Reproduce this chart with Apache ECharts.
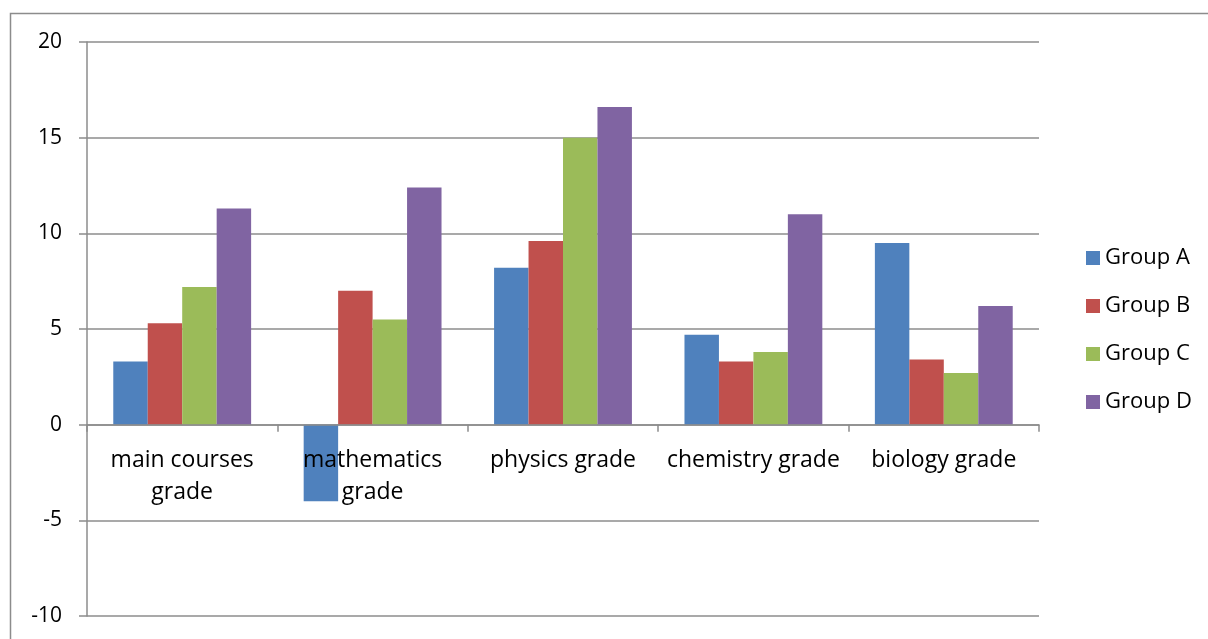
<!DOCTYPE html>
<html>
<head>
<meta charset="utf-8">
<script src="https://cdn.jsdelivr.net/npm/echarts@6/dist/echarts.min.js"></script>
<style>
  html, body { margin: 0; padding: 0; background: #fff; }
  #chart { width: 1208px; height: 639px; }
</style>
</head>
<body>
<div id="chart"></div>
<script>
// Subjects along the category axis
const categories = ['main courses\ngrade', 'mathematics\ngrade', 'physics grade', 'chemistry grade', 'biology grade'];

// Scores per group
const groupA = [3.3, -4.0, 8.2, 4.7, 9.5];
const groupB = [5.3, 7.0, 9.6, 3.3, 3.4];
const groupC = [7.2, 5.5, 15.0, 3.8, 2.7];
const groupD = [11.3, 12.4, 16.6, 11.0, 6.2];

const seriesNames = ['Group A', 'Group B', 'Group C', 'Group D'];
const seriesColors = ['#4F81BD', '#C0504D', '#9BBB59', '#8064A2'];

// Value axis range
const Y_MIN = -10;
const Y_MAX = 20;
const Y_STEP = 5;

const FONT = '"Open Sans", Lato, sans-serif';
const AXIS_GRAY = '#8c8c8c';

const CHART_H = 639;
const GRID = { left: 87, right: 169, top: 42, bottom: 23 };
// The category axis sits on the zero line, with its labels just below it
const plotH = CHART_H - GRID.top - GRID.bottom;
const zeroOffset = -plotH * (0 - Y_MIN) / (Y_MAX - Y_MIN);

const chart = echarts.init(document.getElementById('chart'), null, { renderer: 'canvas' });

const groupData = [groupA, groupB, groupC, groupD];

chart.setOption({
  animation: false,
  backgroundColor: '#fff',
  textStyle: { fontFamily: FONT, color: '#000' },
  graphic: [{
    type: 'rect',
    shape: { x: 10.5, y: 13.5, width: 1400, height: 800 },
    style: { fill: 'none', stroke: AXIS_GRAY, lineWidth: 1.5 },
    z: -10,
    silent: true
  }],
  grid: Object.assign({ containLabel: false, outerBoundsMode: 'none' }, GRID),
  legend: {
    orient: 'vertical',
    left: 1081,
    top: 242,
    itemWidth: 14,
    itemHeight: 14,
    itemGap: 26,
    icon: 'rect',
    textStyle: { fontFamily: FONT, fontSize: 22, color: '#000' },
    data: seriesNames
  },
  xAxis: {
    type: 'category',
    data: categories,
    position: 'bottom',
    offset: zeroOffset,
    z: 3,
    axisLine: { onZero: false, lineStyle: { color: AXIS_GRAY, width: 1.5 } },
    axisTick: { show: true, alignWithLabel: false, length: 7, lineStyle: { color: AXIS_GRAY, width: 1.5 } },
    axisLabel: {
      interval: 0,
      margin: 20,
      fontFamily: FONT,
      fontSize: 23,
      lineHeight: 32,
      color: '#000'
    },
    splitLine: { show: false }
  },
  yAxis: {
    type: 'value',
    min: Y_MIN,
    max: Y_MAX,
    interval: Y_STEP,
    axisLine: { show: true, lineStyle: { color: AXIS_GRAY, width: 1.5 } },
    axisTick: { show: true, inside: false, length: 8, lineStyle: { color: AXIS_GRAY, width: 1.5 } },
    axisLabel: { margin: 25, fontFamily: FONT, fontSize: 21, color: '#000' },
    splitLine: { show: true, lineStyle: { color: AXIS_GRAY, width: 1.5 } }
  },
  series: seriesNames.map((name, i) => ({
    name: name,
    type: 'bar',
    data: groupData[i],
    barGap: '0%',
    barCategoryGap: '27.6%',
    itemStyle: { color: seriesColors[i] }
  }))
});
</script>
</body>
</html>
